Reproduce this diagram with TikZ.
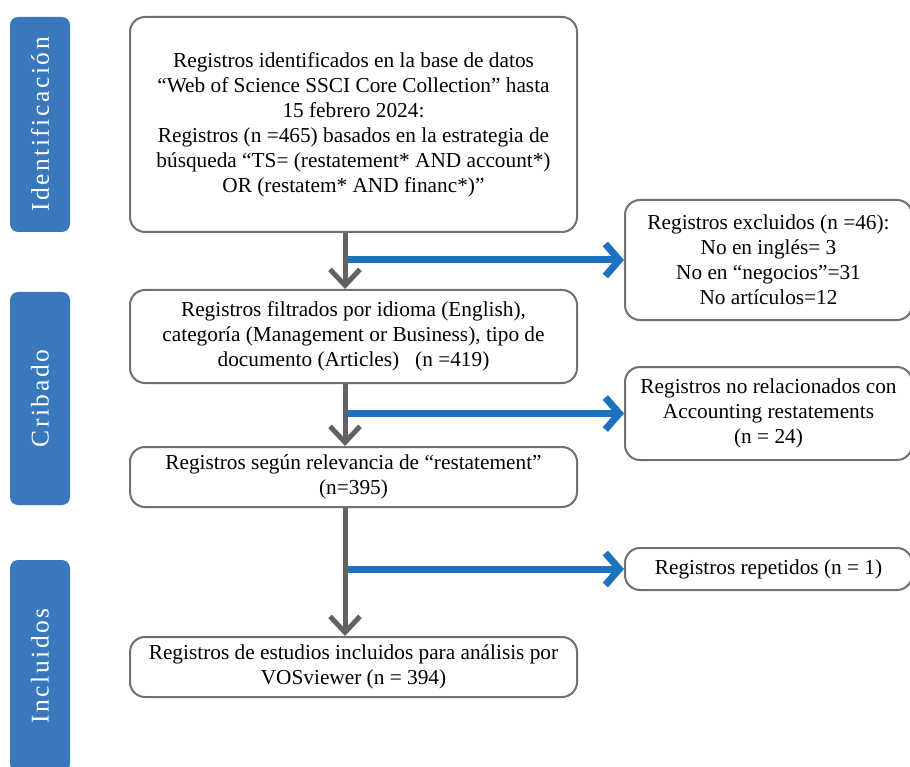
\documentclass[tikz,border=0pt]{standalone}
\usepackage{fontspec}
\setmainfont{Liberation Serif}
\newfontfamily\barfont[LetterSpace=10]{Liberation Serif}
\usetikzlibrary{arrows.meta}
\definecolor{barblue}{RGB}{58,120,189}
\definecolor{arrowblue}{RGB}{27,114,190}
\definecolor{linegray}{RGB}{98,98,98}
\definecolor{boxgray}{RGB}{112,112,112}
\tikzset{
  stagebar/.style={fill=barblue,rounded corners=8pt,rotate=90,inner sep=0pt,
    minimum height=60pt,text=white,font=\barfont\fontsize{25.5}{25.5}\selectfont},
  stepbox/.style={draw=boxgray,line width=2pt,rounded corners=15pt,align=center,
    inner sep=0pt,font=\fontsize{21.3}{25}\selectfont},
  mainbox/.style={stepbox,minimum width=447pt},
  sidebox/.style={stepbox,minimum width=287pt},
  flow/.style={draw=linegray,line width=5pt,-{Straight Barb[length=16pt,width=30pt]}},
  drop/.style={draw=arrowblue,line width=7pt,-{Straight Barb[length=14pt,width=32pt]}}
}
\begin{document}
\begin{tikzpicture}[x=1pt,y=-1pt]
        \useasboundingbox (0,0) rectangle (910,767);
        %% Stage bars
        \node[stagebar,minimum width=215pt] (ident) at (40,124.5) {Identificación};
        \node[stagebar,minimum width=213pt] (crib) at (40,398.5) {Cribado};
        \node[stagebar,minimum width=212pt] (incl) at (40,666) {Incluidos};
        %% Main column
        \node[mainbox,minimum height=215pt] (found) at (353.5,124.5) {Registros identificados en la base de datos\\
          “Web of Science SSCI Core Collection” hasta\\ 15 febrero 2024:\\
          Registros (n =465) basados en la estrategia de\\
          búsqueda “TS= (restatement* AND account*)\\ OR (restatem* AND financ*)”};
        \node[mainbox,minimum height=93pt] (filt) at (353.5,336.5) {Registros filtrados por idioma (English),\\
          categoría (Management or Business), tipo de\\ documento (Articles) \ \ (n =419)};
        \node[mainbox,minimum height=60pt] (relev) at (353.5,477) {Registros según relevancia de “restatement”\\ (n=395)};
        \node[mainbox,minimum height=60pt] (final) at (353.5,667) {Registros de estudios incluidos para análisis por\\ VOSviewer (n = 394)};
        %% Side boxes
        \node[sidebox,minimum height=120pt] (excl) at (768.5,260) {Registros excluidos (n =46):\\
          No en inglés= 3\\ No en “negocios”=31\\ No artículos=12};
        \node[sidebox,minimum height=93pt] (norel) at (768.5,413.5) {Registros no relacionados con\\
          Accounting restatements\\ (n = 24)};
        \node[sidebox,minimum height=42pt] (rep) at (768.5,569) {Registros repetidos (n = 1)};
        %% Spine
        \coordinate (spine) at (345,0);
        %% Blue arrows
        \draw[drop] (spine |- excl.west) -- (excl.west);
        \draw[drop] (spine |- norel.west) -- (norel.west);
        \draw[drop] (spine |- rep.west) -- (rep.west);
        %% Gray arrows
        \draw[flow] (found.south -| spine) -- (filt.north -| spine);
        \draw[flow] (filt.south -| spine) -- (relev.north -| spine);
        \draw[flow] (relev.south -| spine) -- (final.north -| spine);
    \end{tikzpicture}
\end{document}
